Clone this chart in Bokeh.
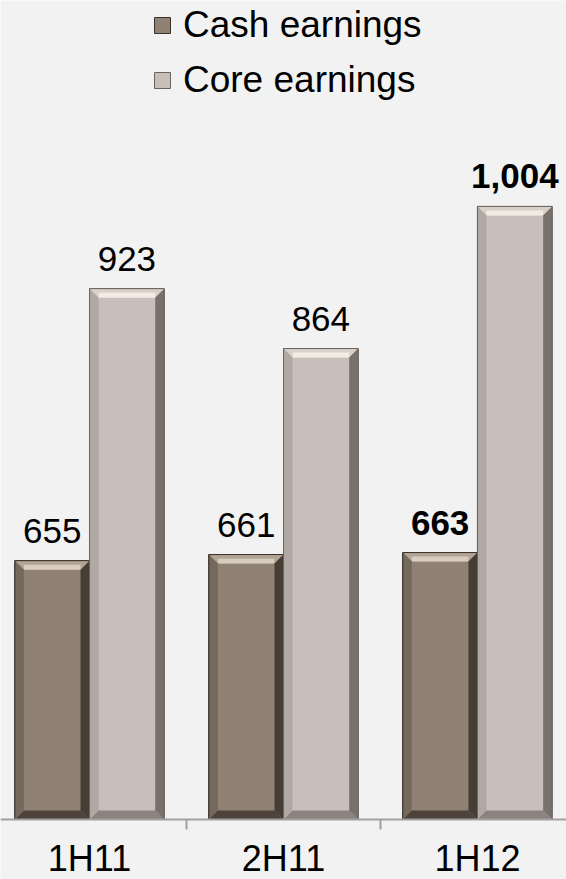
from bokeh.plotting import figure
from bokeh.models import (ColumnDataSource, Range1d, Legend, LegendItem, Span)
from bokeh.embed import file_html
from bokeh.resources import INLINE
from bokeh.core.properties import value

# ---- data ----
categories = ["1H11", "2H11", "1H12"]
cash_earnings = [655, 661, 663]
core_earnings = [923, 864, 1004]
bold_flags = [False, False, True]
series_names = ["Cash earnings", "Core earnings"]

# ---- styling / layout ----
Y_BASE = 400                      # value at the category axis line
PX_Y = 1.015                      # pixels per unit
Y_MAX = Y_BASE + 819 / PX_Y
Y_LOW = Y_BASE - 60 / PX_Y        # room below the axis line for category labels
X_MIN, X_MAX = -0.459, 2.459
BAR_W = 0.385
PX_X = 566 / (X_MAX - X_MIN)
BEV = 9  # bevel size in px
DX, DY = BEV / PX_X, BEV / PX_Y
FONT = "Liberation Sans"
AXIS_GREY = "#A0A0A0"

palettes = {
    "Cash earnings": dict(face="#8F8174", top="#B3A595", hi="#D8CCBE", left="#75695D",
                          right="#463D35", bottom="#4D433A", line="#3A322B"),
    "Core earnings": dict(face="#C8BEBA", top="#D9D0CA", hi="#F2ECE5", left="#B0A8A3",
                          right="#77706B", bottom="#8C837E", line="#6A635E"),
}

p = figure(width=566, height=879, x_range=Range1d(X_MIN, X_MAX), y_range=Range1d(Y_LOW, Y_MAX),
           output_backend="svg", toolbar_location=None, min_border=0,
           x_axis_location=None, y_axis_location=None,
           background_fill_color="#F2F2F2", border_fill_color="#F2F2F2")
p.outline_line_color = None
p.xgrid.visible = False
p.ygrid.visible = False

face_renderers = {}
for si, (name, vals) in enumerate(zip(series_names, [cash_earnings, core_earnings])):
    pal = palettes[name]
    lefts, rights, tops, bottoms = [], [], [], []
    top_xs, top_ys, bot_xs, bot_ys, l_xs, l_ys, r_xs, r_ys = [], [], [], [], [], [], [], []
    hi_l, hi_r, hi_b, hi_t = [], [], [], []
    for ci, v in enumerate(vals):
        l = ci - BAR_W + si * BAR_W
        r = l + BAR_W
        b, t = Y_BASE, v
        lefts.append(l); rights.append(r); bottoms.append(b); tops.append(t)
        top_xs.append([l, r, r - DX, l + DX]); top_ys.append([t, t, t - DY, t - DY])
        bot_xs.append([l, r, r - DX, l + DX]); bot_ys.append([b, b, b + DY, b + DY])
        l_xs.append([l, l, l + DX, l + DX]); l_ys.append([b, t, t - DY, b + DY])
        r_xs.append([r, r, r - DX, r - DX]); r_ys.append([b, t, t - DY, b + DY])
        hi_l.append(l + DX); hi_r.append(r - DX)
        hi_t.append(t - DY * 0.45); hi_b.append(t - DY)
    face = p.quad(left=lefts, right=rights, bottom=bottoms, top=tops,
                  fill_color=pal["face"], line_color=pal["line"], line_width=1)
    face_renderers[name] = face
    p.patches(top_xs, top_ys, fill_color=pal["top"], line_color=None)
    p.quad(left=hi_l, right=hi_r, bottom=hi_b, top=hi_t, fill_color=pal["hi"], line_color=None)
    p.patches(l_xs, l_ys, fill_color=pal["left"], line_color=None)
    p.patches(r_xs, r_ys, fill_color=pal["right"], line_color=None)
    p.patches(bot_xs, bot_ys, fill_color=pal["bottom"], line_color=None)
    p.quad(left=lefts, right=rights, bottom=bottoms, top=tops,
           fill_color=None, line_color=pal["line"], line_width=1)

    src = ColumnDataSource(dict(
        x=[ci - BAR_W / 2 + si * BAR_W for ci in range(len(vals))],
        y=vals,
        txt=[f"{v:,}" for v in vals],
        style=["bold" if bf else "normal" for bf in bold_flags],
    ))
    p.text(x="x", y="y", text="txt", source=src, text_font=value(FONT),
           text_font_size="35px", text_font_style="style", text_color="#000000",
           text_align="center", text_baseline="alphabetic", y_offset=-30)

# category axis: line at the base value, ticks between categories, labels under centres
p.add_layout(Span(location=Y_BASE, dimension="width", line_color=AXIS_GREY, line_width=2))
tick_x = [i + 0.5 for i in range(len(categories) - 1)]
p.segment(x0=tick_x, x1=tick_x, y0=[Y_BASE] * len(tick_x), y1=[Y_BASE - 10 / PX_Y] * len(tick_x),
          line_color=AXIS_GREY, line_width=2)
cat_src = ColumnDataSource(dict(x=list(range(len(categories))), y=[Y_BASE] * len(categories),
                                txt=categories))
p.text(x="x", y="y", text="txt", source=cat_src, text_font=value(FONT), text_font_size="36px",
       text_color="#000000", text_align="center", text_baseline="alphabetic", y_offset=39)

legend = Legend(items=[LegendItem(label=n, renderers=[face_renderers[n]]) for n in series_names],
                location=(152, 778), orientation="vertical",
                glyph_width=20, glyph_height=20, label_standoff=11, spacing=13,
                padding=0, margin=0, border_line_alpha=0, background_fill_alpha=0,
                label_text_font=FONT, label_text_font_size="37px", label_text_color="#000000")
p.add_layout(legend)

open("out.html", "w").write(file_html(p, INLINE))
